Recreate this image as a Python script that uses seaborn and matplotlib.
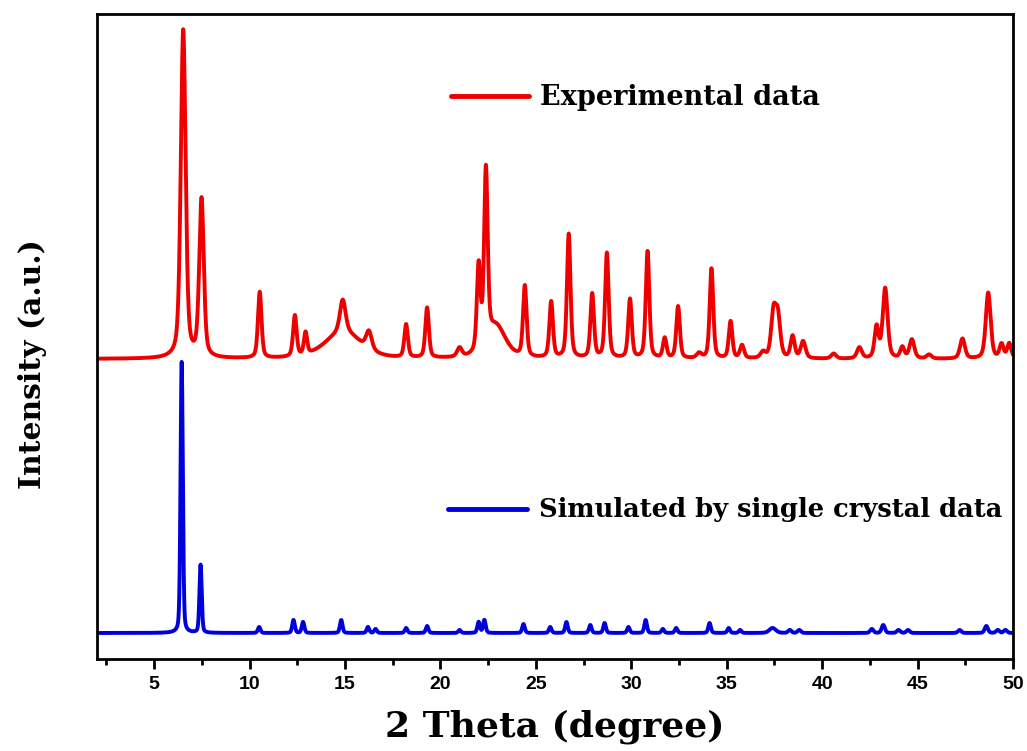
import numpy as np
import pandas as pd
import seaborn as sns
import matplotlib
matplotlib.use("Agg")
import matplotlib.pyplot as plt
from matplotlib.lines import Line2D
from matplotlib.ticker import MultipleLocator

# ---- data (peak position 2θ, height, FWHM) ----
exp_pos = [6.52, 7.48, 10.53, 12.37, 12.93, 14.88, 14.9, 16.25, 18.2, 19.3, 21.0,
           22.0, 22.38, 22.9, 24.42, 25.8, 26.72, 27.95, 28.72, 29.93, 30.85,
           31.75, 32.45, 33.55, 34.2, 35.2, 35.8, 36.9, 37.45, 37.68, 38.45,
           39.0, 40.6, 41.95, 42.85, 43.3, 44.2, 44.7, 45.6, 47.35, 48.7,
           49.4, 49.8]
exp_height = [328, 158, 66, 41, 22, 32, 27, 18, 33, 50, 9,
              84, 172, 32, 71, 56, 124, 64, 105, 59, 107,
              20, 52, 5, 90, 37, 13, 6, 44, 40, 22,
              17, 5, 11, 31, 70, 11, 19, 4, 20, 66,
              14, 15]
exp_fwhm = [0.30, 0.28, 0.22, 0.22, 0.20, 0.35, 2.2, 0.35, 0.22, 0.22, 0.30,
            0.22, 0.22, 1.2, 0.22, 0.22, 0.22, 0.22, 0.22, 0.22, 0.22,
            0.22, 0.22, 0.30, 0.22, 0.22, 0.25, 0.30, 0.30, 0.30, 0.25,
            0.30, 0.30, 0.30, 0.25, 0.30, 0.25, 0.30, 0.30, 0.30, 0.30,
            0.25, 0.25]

sim_pos = [6.44, 7.43, 10.5, 12.3, 12.8, 14.8, 16.2, 16.6, 18.2, 19.3, 21.0,
           22.0, 22.3, 24.35, 25.75, 26.6, 27.85, 28.6, 29.85, 30.75, 31.65,
           32.35, 34.1, 35.1, 35.7, 37.4, 38.3, 38.8, 42.6, 43.2, 44.0, 44.5,
           47.2, 48.6, 49.2, 49.6]
sim_height = [271, 68, 6, 13, 11, 13, 6, 4, 5, 7, 3,
              11, 13, 9, 6, 11, 8, 10, 6, 13, 4,
              5, 10, 5, 3, 5, 3, 3, 4, 8, 3, 3,
              3, 7, 3, 3]
sim_fwhm = [0.14, 0.14, 0.16, 0.16, 0.16, 0.16, 0.16, 0.16, 0.16, 0.16, 0.16,
            0.16, 0.16, 0.16, 0.16, 0.16, 0.16, 0.16, 0.16, 0.16, 0.16,
            0.16, 0.16, 0.16, 0.16, 0.40, 0.2, 0.2, 0.2, 0.2, 0.2, 0.2,
            0.2, 0.2, 0.2, 0.2]

exp_baseline = 300
sim_baseline = 26

labels = ["Experimental data", "Simulated by single crystal data"]
colors = ["#ee0000", "#0000dd"]
x_ticks = [5, 10, 15, 20, 25, 30, 35, 40, 45, 50]


def profile(x, pos, height, fwhm, eta=0.45):
    y = np.zeros_like(x)
    for p, h, w in zip(pos, height, fwhm):
        g = np.exp(-4 * np.log(2) * ((x - p) / w) ** 2)
        lz = 1.0 / (1.0 + 4 * ((x - p) / w) ** 2)
        y += h * (eta * lz + (1 - eta) * g)
    return y


two_theta = np.arange(2.1, 50.0, 0.01)
df = pd.concat([
    pd.DataFrame({"2theta": two_theta,
                  "I": exp_baseline + profile(two_theta, exp_pos, exp_height, exp_fwhm),
                  "series": labels[0]}),
    pd.DataFrame({"2theta": two_theta,
                  "I": sim_baseline + profile(two_theta, sim_pos, sim_height, sim_fwhm, eta=0.3),
                  "series": labels[1]}),
])

sns.set_style("white")
plt.rcParams.update({"text.color": "black", "axes.labelcolor": "black",
                     "xtick.color": "black", "ytick.color": "black"})
fig = plt.figure(figsize=(10.27, 7.51), dpi=100)
ax = fig.add_axes([0.0944, 0.1225, 0.892, 0.8589])

sns.lineplot(data=df, x="2theta", y="I", hue="series", palette=colors,
             hue_order=labels, linewidth=2.8, legend=False, ax=ax, estimator=None,
             sort=False)

ax.set_xlim(2, 50)
ax.set_ylim(0, 645)
ax.set_yticks([])
ax.set_xticks(x_ticks)
ax.xaxis.set_minor_locator(MultipleLocator(2.5))
ax.tick_params(axis="x", which="major", direction="out", length=7, width=2,
               bottom=True, pad=5, colors="black")
ax.tick_params(axis="x", which="minor", direction="out", length=4, width=2,
               bottom=True, colors="black")
for lab in ax.get_xticklabels():
    lab.set_fontfamily("Liberation Sans")
    lab.set_fontweight("bold")
    lab.set_fontsize(14)
for sp in ax.spines.values():
    sp.set_linewidth(2)
    sp.set_color("black")

ax.set_xlabel("2 Theta (degree)", fontsize=26, fontweight="bold",
              family="DejaVu Serif", color="black", labelpad=12)
ax.set_ylabel("Intensity (a.u.)", fontsize=21.5, fontweight="bold",
              family="DejaVu Serif", color="black")
ax.yaxis.set_label_coords(-0.055, 0.457)

leg_font1 = {"family": "DejaVu Serif", "weight": "bold", "size": 19.5}
leg_font2 = {"family": "DejaVu Serif", "weight": "bold", "size": 18.5}
leg1 = ax.legend(handles=[Line2D([], [], color=colors[0], lw=3.5)], labels=[labels[0]],
                 loc="center left", bbox_to_anchor=(0.386, 0.870), frameon=False,
                 prop=leg_font1, handlelength=2.9, handletextpad=0.4,
                 borderpad=0, borderaxespad=0)
ax.add_artist(leg1)
leg2 = ax.legend(handles=[Line2D([], [], color=colors[1], lw=3.5)], labels=[labels[1]],
                 loc="center left", bbox_to_anchor=(0.383, 0.231), frameon=False,
                 prop=leg_font2, handlelength=3.1, handletextpad=0.45,
                 borderpad=0, borderaxespad=0)
for lg in (leg1, leg2):
    for t in lg.get_texts():
        t.set_color("black")

fig.savefig("out.png", dpi=100)
